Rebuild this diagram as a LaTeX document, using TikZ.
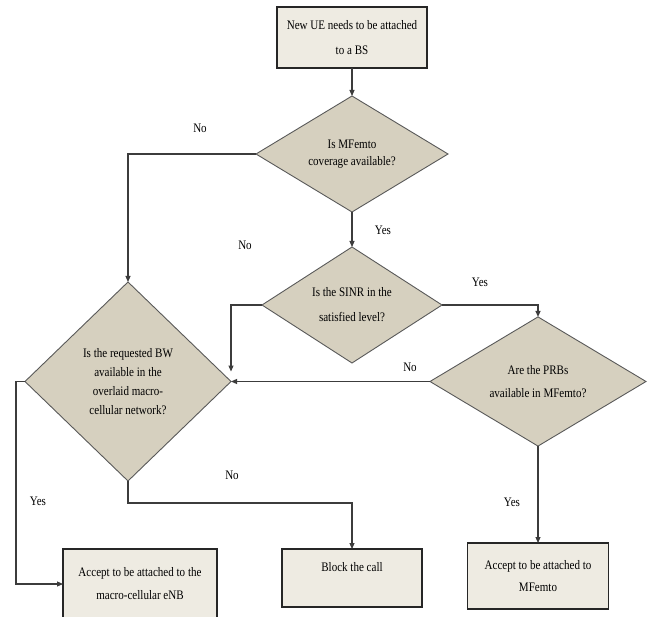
\documentclass[tikz,border=0pt]{standalone}
\usepackage{fontspec}
\setmainfont{Liberation Serif}[FakeStretch=0.85]
\usetikzlibrary{shapes.geometric,arrows.meta,calc}
\definecolor{dfill}{HTML}{D6D0BF}
\definecolor{bfill}{HTML}{EEEBE2}
\definecolor{ln}{HTML}{3C3C3C}
\begin{document}
\begin{tikzpicture}[x=1pt,y=-1pt,
  every node/.style={font=\fontsize{13}{15}\selectfont},
  box/.style={draw=black!85, line width=1.1pt, fill=bfill, rectangle, inner sep=0pt, outer sep=0pt, align=center},
  dec/.style={draw=black!65, line width=0.9pt, fill=dfill, diamond, inner sep=0pt, outer sep=0pt, align=center},
  conn/.style={draw=ln, line width=1.1pt, -{Triangle[length=6pt,width=5pt]}},
  lbl/.style={inner sep=0pt}]
\useasboundingbox[fill=white] (0,0) rectangle (650,617);

% boxes
\node[box, minimum width=150, minimum height=61, font=\fontsize{13}{25}\selectfont] (start) at (352,37.5) {New UE needs to be attached\\to a BS};
\node[box, minimum width=154, minimum height=70, font=\fontsize{13}{23}\selectfont] (box1) at (140,584) {Accept to be attached to the\\macro-cellular eNB};
\node[box, minimum width=140, minimum height=58, font=\fontsize{13}{22}\selectfont] (box2) at (352,578) {Block the call\\\mbox{}};
\node[box, minimum width=141, minimum height=66, font=\fontsize{13}{22}\selectfont] (box3) at (538,576) {Accept to be attached to\\MFemto};

% decisions
\node[dec, minimum width=192, minimum height=116, font=\fontsize{13}{17}\selectfont] (d1) at (352,154) {Is MFemto\\coverage available?};
\node[dec, minimum width=180, minimum height=116, font=\fontsize{13}{25}\selectfont] (d2) at (352,305) {Is the SINR in the\\satisfied level?};
\node[dec, minimum width=216, minimum height=117, font=\fontsize{13}{23}\selectfont] (d3) at (538,381.5) {Are the PRBs\\available in MFemto?};
\node[dec, minimum width=206, minimum height=199, font=\fontsize{13}{19}\selectfont] (d4) at (128,381.5) {Is the requested BW\\available in the\\overlaid macro-\\cellular network?};

% connectors
\draw[conn] (start.south) -- (d1.north);
\draw[conn] (d1.south) -- (d2.north);
\draw[conn] (d1.west) -| (d4.north);
\draw[conn] (d2.east) -| (d3.north);
\coordinate (d4in) at ($(d4.east)+(0,-10)$);
\draw[conn] (d2.west) -| (d4in);
\draw[conn] (d3.west) -- (d4.east);
\draw[conn] (d3.south) -- (box3.north);
\draw[conn] (d4.south) -- ++(0,22) -| (box2.north);
\draw[conn] (d4.west) -- ++(-9,0) |- (box1.west);

% labels
\node[lbl] (yes1) at (383,230) {Yes};
\node[lbl] (no1) at (200,128) {No};
\node[lbl] (yes2) at (480,282) {Yes};
\node[lbl] (no2) at (245,245) {No};
\node[lbl] (no3) at (410,367) {No};
\node[lbl] (no4) at (232,475) {No};
\node[lbl] (yes3) at (38,501) {Yes};
\node[lbl] (yes4) at (512,502) {Yes};
\end{tikzpicture}
\end{document}
